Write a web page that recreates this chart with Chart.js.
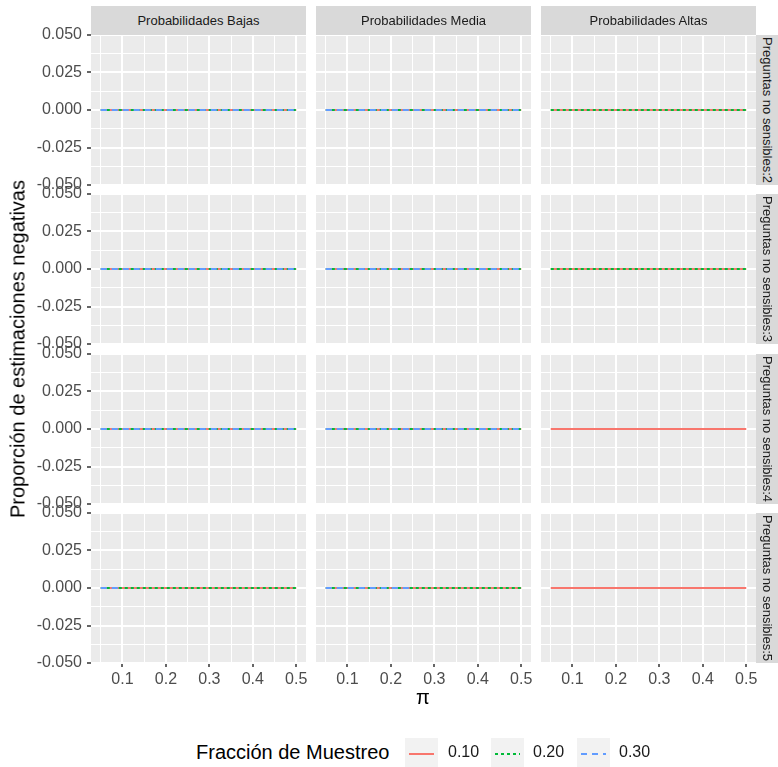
<!DOCTYPE html>
<html>
<head>
<meta charset="utf-8">
<script src="https://cdn.jsdelivr.net/npm/chart.js@4/dist/chart.umd.min.js"></script>
<style>
  body { margin: 0; background: #fff; font-family: "Liberation Sans", Arial, sans-serif; }
  #figura { position: relative; width: 778px; height: 767px; overflow: hidden; }
  canvas { position: absolute; }
  .tira { position: absolute; background: #D9D9D9; color: #1A1A1A; font-size: 13px;
          display: flex; align-items: center; justify-content: center; white-space: nowrap; overflow: hidden; }
  .tira.derecha { writing-mode: vertical-rl; }
  .titulo { position: absolute; color: #000; font-size: 20px; white-space: nowrap; }
  .clave { position: absolute; top: 738px; width: 33px; height: 31px; background: #F2F2F2; }
  .etiqueta { position: absolute; top: 743px; font-size: 16px; color: #1A1A1A; }
</style>
</head>
<body>
<div id="figura"></div>
<script>
// datos del gráfico
const pi = [0.05, 0.10, 0.15, 0.20, 0.25, 0.30, 0.35, 0.40, 0.45, 0.50];
const fracciones = ['0.10', '0.20', '0.30'];
const colores = ['#F8766D', '#00BA38', '#619CFF'];
const trazos = [[], [3, 3], [6, 5]];
const probabilidades = ['Probabilidades Bajas', 'Probabilidades Media', 'Probabilidades Altas'];
const preguntas = ['Preguntas no sensibles:2', 'Preguntas no sensibles:3', 'Preguntas no sensibles:4', 'Preguntas no sensibles:5'];
const xTicks = [0.1, 0.2, 0.3, 0.4, 0.5];
const xMenores = [0.05, 0.15, 0.25, 0.35, 0.45];
const yTicks = [-0.05, -0.025, 0, 0.025, 0.05];
const yMenores = [-0.0375, -0.0125, 0.0125, 0.0375];

// proporción de estimaciones negativas por valor de pi
const ceros = [0, 0, 0, 0, 0, 0, 0, 0, 0, 0];
const cerosHasta010 = [0, 0, null, null, null, null, null, null, null, null];
const cerosHasta025 = [0, 0, 0, 0, 0, null, null, null, null, null];

// filas: preguntas 2..5; columnas: bajas, media, altas; dentro: fracción 0.10, 0.20, 0.30
const valores = [
  [[ceros, ceros, ceros], [ceros, ceros, ceros], [ceros, ceros, null]],
  [[ceros, ceros, ceros], [ceros, ceros, ceros], [ceros, ceros, null]],
  [[ceros, ceros, ceros], [ceros, ceros, ceros], [ceros, null, null]],
  [[ceros, ceros, cerosHasta010], [ceros, ceros, cerosHasta025], [ceros, null, null]]
];

const izq = [91, 316, 541], ancho = 215;
const arriba = [35, 194, 354, 513], alto = 150;
const fig = document.getElementById('figura');

const esMayor = (v, lista) => lista.some(t => Math.abs(t - v) < 1e-9);
const fuente = { family: '"Liberation Sans", Arial, sans-serif', size: 16 };

// fondo gris del panel
const fondo = {
  id: 'fondo',
  beforeDraw(chart) {
    const a = chart.chartArea, ctx = chart.ctx;
    ctx.save();
    ctx.fillStyle = '#EBEBEB';
    ctx.fillRect(a.left, a.top, a.right - a.left, a.bottom - a.top);
    ctx.restore();
  }
};

function panel(r, c) {
  const padL = c === 0 ? 91 : 0;
  const bot = r === 3 ? 30 : 0;
  const cv = document.createElement('canvas');
  cv.width = ancho + padL + 6;
  cv.height = alto + bot + 20;
  cv.style.left = (izq[c] - padL) + 'px';
  cv.style.top = (arriba[r] - 10) + 'px';
  fig.appendChild(cv);

  const series = [];
  valores[r][c].forEach((vals, k) => {
    if (!vals) return;
    series.push({
      label: fracciones[k],
      data: pi.map((p, i) => ({ x: p, y: vals[i] })),
      borderColor: colores[k],
      borderDash: trazos[k],
      borderWidth: 2,
      pointRadius: 0,
      fill: false,
      order: 3 - k
    });
  });

  new Chart(cv, {
    type: 'line',
    data: { datasets: series },
    options: {
      responsive: false,
      animation: false,
      events: [],
      layout: { padding: { top: 10, bottom: 10, left: 0, right: 6 } },
      plugins: { legend: { display: false }, tooltip: { enabled: false } },
      elements: { line: { tension: 0 } },
      scales: {
        x: {
          type: 'linear', min: 0.0275, max: 0.5225,
          afterBuildTicks: s => { s.ticks = xTicks.concat(xMenores).sort((a, b) => a - b).map(v => ({ value: v })); },
          afterFit: s => { s.height = bot; s.paddingLeft = 0; s.paddingRight = 0; },
          border: { display: false },
          grid: {
            color: '#FFFFFF',
            lineWidth: ctx => esMayor(ctx.tick.value, xTicks) ? 2 : 1,
            drawTicks: r === 3,
            tickLength: 4,
            tickWidth: 1.5,
            tickColor: ctx => esMayor(ctx.tick.value, xTicks) ? '#333333' : 'rgba(0,0,0,0)'
          },
          ticks: {
            display: r === 3, autoSkip: false, maxRotation: 0, padding: 3,
            color: '#4D4D4D', font: fuente,
            callback: v => esMayor(v, xTicks) ? v.toFixed(1) : ''
          }
        },
        y: {
          type: 'linear', min: -0.05, max: 0.05,
          afterBuildTicks: s => { s.ticks = yTicks.concat(yMenores).sort((a, b) => a - b).map(v => ({ value: v })); },
          afterFit: s => { s.width = padL; s.paddingTop = 0; s.paddingBottom = 0; },
          border: { display: false },
          grid: {
            color: '#FFFFFF',
            lineWidth: ctx => esMayor(ctx.tick.value, yTicks) ? 2 : 1,
            drawTicks: c === 0,
            tickLength: 4,
            tickWidth: 1.5,
            tickColor: ctx => esMayor(ctx.tick.value, yTicks) ? '#333333' : 'rgba(0,0,0,0)'
          },
          ticks: {
            display: c === 0, autoSkip: false, padding: 5,
            color: '#4D4D4D', font: fuente,
            callback: v => esMayor(v, yTicks) ? v.toFixed(3) : ''
          }
        }
      }
    },
    plugins: [fondo]
  });
}

for (let r = 0; r < 4; r++) for (let c = 0; c < 3; c++) panel(r, c);

// tiras de facetas
probabilidades.forEach((t, c) => {
  const d = document.createElement('div');
  d.className = 'tira';
  d.style.cssText = `left:${izq[c]}px;top:6px;width:${ancho}px;height:29px;`;
  d.textContent = t;
  fig.appendChild(d);
});
preguntas.forEach((t, r) => {
  const d = document.createElement('div');
  d.className = 'tira derecha';
  d.style.cssText = `left:756px;top:${arriba[r]}px;width:23px;height:${alto}px;`;
  d.textContent = t;
  fig.appendChild(d);
});

// títulos de ejes
const yt = document.createElement('div');
yt.className = 'titulo';
yt.textContent = 'Proporción de estimaciones negativas';
yt.style.cssText = 'left:18px;top:349px;transform:translate(-50%,-50%) rotate(-90deg);';
fig.appendChild(yt);
const xt = document.createElement('div');
xt.className = 'titulo';
xt.textContent = 'π';
xt.style.cssText = 'left:423px;top:697px;transform:translate(-50%,-50%);';
fig.appendChild(xt);

// leyenda
const lt = document.createElement('div');
lt.className = 'titulo';
lt.textContent = 'Fracción de Muestreo';
lt.style.cssText = 'left:196px;top:741px;';
fig.appendChild(lt);
const clavesX = [405, 491, 577], etiquetasX = [448, 533, 619];
fracciones.forEach((f, k) => {
  const d = document.createElement('div');
  d.className = 'clave';
  d.style.left = clavesX[k] + 'px';
  d.innerHTML = `<svg width="33" height="31"><line x1="4" y1="16" x2="29" y2="16" stroke="${colores[k]}" stroke-width="2" stroke-dasharray="${trazos[k].join(',') || 'none'}"/></svg>`;
  fig.appendChild(d);
  const e = document.createElement('div');
  e.className = 'etiqueta';
  e.style.left = etiquetasX[k] + 'px';
  e.textContent = f;
  fig.appendChild(e);
});
</script>
</body>
</html>
